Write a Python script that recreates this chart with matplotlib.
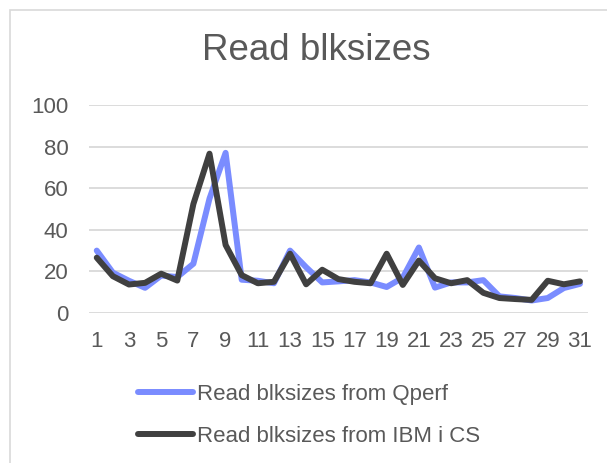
import matplotlib
matplotlib.use("Agg")
import matplotlib.pyplot as plt
from matplotlib.patches import Rectangle

title = "Read blksizes"
series_names = ["Read blksizes from Qperf", "Read blksizes from IBM i CS"]
categories = list(range(1, 32))
qperf = [30, 19.4, 15.5, 12.1, 18, 17.3, 23.7, 55, 77, 16, 15.5, 14.3, 30, 22,
         14.7, 15.2, 15.8, 14.7, 12.5, 17, 31.5, 12.2, 14.7, 14.7, 15.8, 8, 7.2,
         6, 7.2, 12, 14]
ibm = [26.6, 17.7, 13.7, 14.5, 18.9, 15.6, 52.4, 76.6, 32.7, 18.2, 14.3, 15,
       28.5, 13.8, 20.8, 16.3, 15, 14.3, 28.5, 13.5, 25.2, 16.7, 14.3, 15.8,
       9.7, 7.2, 6.7, 6.3, 15.5, 13.8, 15.2]
y_ticks = [0, 20, 40, 60, 80, 100]
x_tick_labels = [str(c) for c in categories if c % 2 == 1]

plt.rcParams['font.family'] = ['Liberation Sans', 'DejaVu Sans']
text_color = '#595959'
grid_color = '#D9D9D9'
blue = '#7A8CFF'
dark = '#404040'

W, H = 607, 463
fig = plt.figure(figsize=(W / 100, H / 100), dpi=100)

# chart border (cropped at right/bottom)
fig.patches.append(Rectangle((10 / W, -0.1), 1.2, (H - 10) / H + 0.1,
                             transform=fig.transFigure, fill=False,
                             edgecolor=grid_color, linewidth=1.2))

left, right = 88.7, 588
top, bottom = 105, 313
ax = fig.add_axes([left / W, (H - bottom) / H, (right - left) / W, (bottom - top) / H])

ax.plot(categories, qperf, color=blue, lw=4.3, solid_joinstyle='round',
        solid_capstyle='round', label=series_names[0], zorder=3)
ax.plot(categories, ibm, color=dark, lw=4.3, solid_joinstyle='round',
        solid_capstyle='round', label=series_names[1], zorder=4)

ax.set_xlim(0.5, 31.5)
ax.set_ylim(0, 100)
ax.set_yticks(y_ticks)
ax.set_yticklabels([str(v) for v in y_ticks])
ax.set_xticks([c for c in categories if c % 2 == 1])
ax.set_xticklabels(x_tick_labels)
ax.tick_params(axis='both', length=0, labelsize=16, labelcolor=text_color)
ax.tick_params(axis='y', pad=14.5)
ax.tick_params(axis='x', pad=13)
for s in ax.spines.values():
    s.set_visible(False)
ax.grid(axis='y', color=grid_color, lw=1.3)
ax.set_axisbelow(True)

fig.text(316 / W, 1 - 60 / H, title, ha='center', va='baseline',
         fontsize=26.5, color=text_color)

leg = fig.legend(loc='upper left', bbox_to_anchor=(138 / W, 1 - 384 / H),
                 frameon=False, fontsize=16, handlelength=2.47,
                 handletextpad=0.17, labelspacing=0.95, borderpad=0,
                 borderaxespad=0)
for t in leg.get_texts():
    t.set_color(text_color)
for l in leg.get_lines():
    l.set_solid_capstyle('round')

fig.savefig('out.png', dpi=100)
